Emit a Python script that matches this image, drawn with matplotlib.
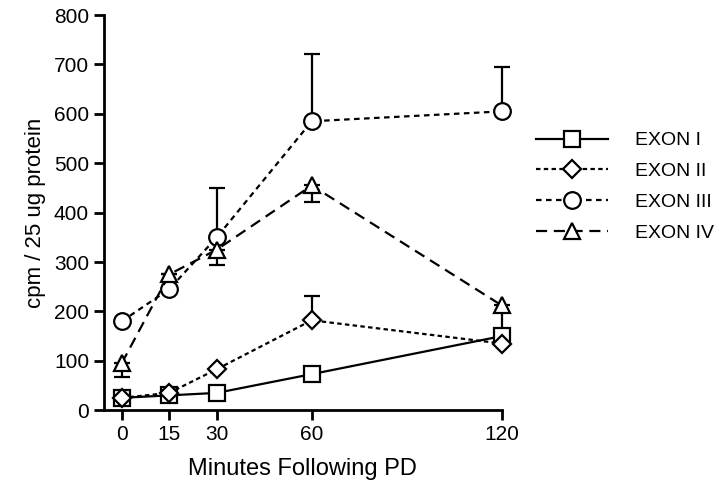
import matplotlib
matplotlib.use('Agg')
import matplotlib.pyplot as plt

plt.rcParams['font.family'] = ['Liberation Sans', 'DejaVu Sans']

minutes = [0, 15, 30, 60, 120]

exon1 = [25, 30, 35, 73, 150]
exon2 = [25, 35, 83, 182, 135]
exon3 = [180, 245, 350, 585, 605]
exon4 = [95, 275, 325, 455, 212]

# one-sided error bars (upper for II/III, lower for IV)
exon1_err = [8, 0, 0, 0, 0]
exon2_up = [0, 0, 0, 50, 0]
exon3_up = [0, 0, 100, 137, 90]
exon4_lo = [27, 0, 32, 33, 55]

fig = plt.figure(figsize=(7.2, 4.86), dpi=100)
ax = fig.add_axes([0.144, 0.156, 0.553, 0.813])

lw = 1.6
ms = 12

def series(y, ls, marker, label, lower=None, upper=None, msz=ms):
    zeros = [0] * len(y)
    if lower is not None or upper is not None:
        yerr = [lower if lower is not None else zeros,
                upper if upper is not None else zeros]
        eb = ax.errorbar(minutes, y, yerr=yerr, fmt='none', ecolor='black',
                         elinewidth=lw, capsize=6, capthick=lw, zorder=2)
        for art in eb.lines[1] + eb.lines[2]:
            art.set_clip_on(False)
    ax.plot(minutes, y, linestyle=ls, color='black', lw=lw, marker=marker,
            markersize=msz, markerfacecolor='white', markeredgecolor='black',
            markeredgewidth=lw, label=label, zorder=3, clip_on=False)

series(exon1, '-', 's', 'EXON I', lower=exon1_err)
series(exon2, (0, (2, 1.5)), 'D', 'EXON II', upper=exon2_up, msz=9.5)
series(exon3, (0, (2.5, 2)), 'o', 'EXON III', upper=exon3_up)
series(exon4, (0, (5, 3)), '^', 'EXON IV', lower=exon4_lo)

ax.set_xlim(-5.7, 120)
ax.set_ylim(0, 800)
ax.set_xticks(minutes)
ax.set_yticks(range(0, 801, 100))
ax.spines['top'].set_visible(False)
ax.spines['right'].set_visible(False)
ax.spines['left'].set_linewidth(2)
ax.spines['bottom'].set_linewidth(2)
ax.tick_params(width=2, length=7, labelsize=15)
ax.set_xlabel('Minutes Following PD', fontsize=17, labelpad=10)
ax.set_ylabel('cpm / 25 ug protein', fontsize=16, labelpad=6)

fig.legend(loc='upper left', bbox_to_anchor=(0.72, 0.765), frameon=False,
           fontsize=14, handlelength=3.7, handletextpad=1.4, labelspacing=0.68)

fig.savefig('out.png', dpi=100)
